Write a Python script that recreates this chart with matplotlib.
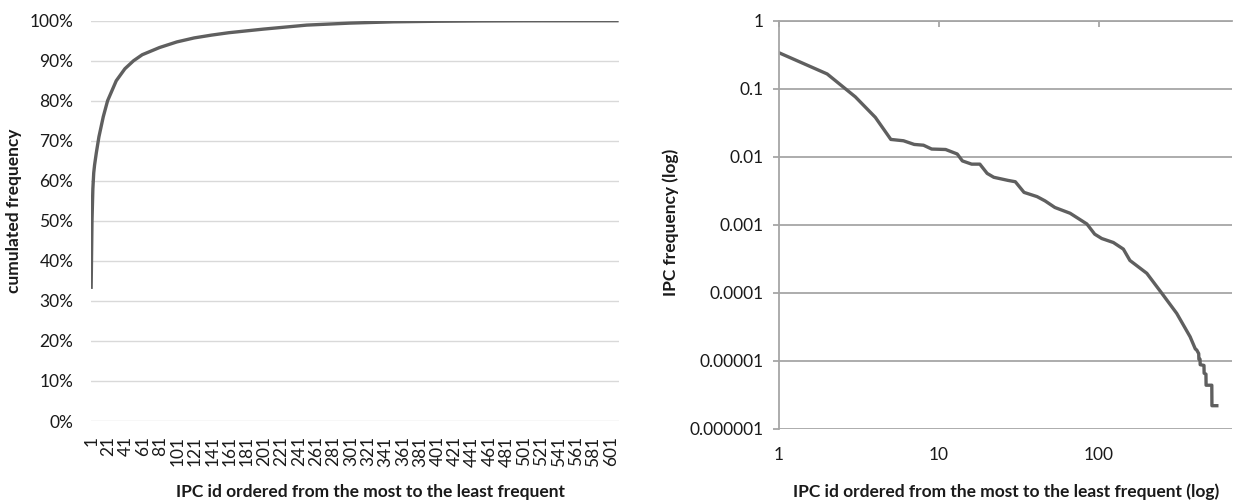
import matplotlib
matplotlib.use("Agg")
import matplotlib.pyplot as plt
from matplotlib.ticker import FixedLocator, FixedFormatter

plt.rcParams['font.family'] = ['Lato', 'DejaVu Sans']

# ---- data: left chart (cumulated frequency) ----
cum_idx = [1, 2, 3, 4, 5, 7, 10, 15, 20, 30, 40, 50, 60, 80, 100, 120, 140,
           160, 200, 250, 300, 350, 400, 450, 500, 550, 610]
cum_val = [0.33, 0.50, 0.58, 0.62, 0.64, 0.67, 0.71, 0.76, 0.80, 0.85, 0.88,
           0.90, 0.915, 0.933, 0.947, 0.957, 0.964, 0.970, 0.979, 0.989,
           0.994, 0.9972, 0.9986, 0.9994, 0.9998, 0.9999, 1.0]
n_categories = 610
left_xticks = list(range(1, 602, 20))
left_yticks = [0, 0.1, 0.2, 0.3, 0.4, 0.5, 0.6, 0.7, 0.8, 0.9, 1.0]
left_ylabels = ["0%", "10%", "20%", "30%", "40%", "50%", "60%", "70%",
                "80%", "90%", "100%"]

# ---- data: right chart (frequency, log-log) ----
freq_idx = [1, 2, 3, 4, 5, 6, 7, 8, 9, 10, 11, 13, 14, 16, 18, 20, 22, 27,
            30, 34, 41, 46, 53, 66, 84, 94, 104, 123, 142, 156, 199, 246,
            306, 371, 400, 408, 420, 421, 428, 429, 453, 454, 466, 467, 507,
            508, 545]
freq_val = [0.338, 0.165, 0.076, 0.038, 0.018, 0.0172, 0.0152, 0.0148,
            0.0130, 0.0129, 0.0128, 0.0110, 0.0087, 0.0078, 0.0078, 0.0057,
            0.0050, 0.0045, 0.0043, 0.0030, 0.0026, 0.00225, 0.0018,
            0.00148, 0.00103, 0.00073, 0.00063, 0.00055, 0.00044, 0.00030,
            0.000194, 0.000100, 0.000050, 0.0000227, 0.0000150, 0.0000145,
            0.0000128, 0.0000106, 0.0000106, 0.0000088, 0.0000086,
            0.0000066, 0.0000064, 0.0000044, 0.0000044, 0.0000022,
            0.0000022]
right_yticks = [1e-6, 1e-5, 1e-4, 1e-3, 1e-2, 1e-1, 1]
right_ylabels = ["0.000001", "0.00001", "0.0001", "0.001", "0.01", "0.1", "1"]
right_xticks = [1, 10, 100]
right_xlabels = ["1", "10", "100"]

W, H = 1233, 500
fig = plt.figure(figsize=(W / 100, H / 100), dpi=100)

line_color = "#5f5f5f"
text_color = "#1a1a1a"
fs = 12.5
fs_title = 12.5

# ---------------- left chart ----------------
axL = fig.add_axes([90.7 / W, (H - 421) / H, 528.3 / W, 400.3 / H])
axL.plot(cum_idx, cum_val, color=line_color, lw=2.4, solid_capstyle="butt")
axL.set_xlim(0.5, n_categories + 0.5)
axL.set_ylim(0, 1)
axL.yaxis.set_major_locator(FixedLocator(left_yticks))
axL.yaxis.set_major_formatter(FixedFormatter(left_ylabels))
axL.set_xticks(left_xticks)
axL.set_xticklabels([str(v) for v in left_xticks], rotation=90)
for s in axL.spines.values():
    s.set_visible(False)
axL.grid(axis="y", color="#d9d9d9", lw=1.0)
axL.set_axisbelow(True)
axL.tick_params(axis="both", length=0, labelsize=fs, colors=text_color)
axL.tick_params(axis="y", pad=12.5)
axL.tick_params(axis="x", pad=11)

fig.text(14 / W, 1 - 211 / H, "cumulated frequency", rotation=90,
         ha="center", va="center", fontsize=fs_title, fontweight="bold",
         color=text_color)
fig.text(371 / W, 1 - 492 / H,
         "IPC id ordered from the most to the least frequent",
         ha="center", va="center", fontsize=fs_title, fontweight="bold",
         color=text_color)

# ---------------- right chart ----------------
axR = fig.add_axes([779 / W, (H - 429) / H, 453 / W, 408.3 / H])
axR.plot(freq_idx, freq_val, color=line_color, lw=2.4)
axR.set_xscale("log")
axR.set_yscale("log")
axR.set_xlim(1, 10 ** (453 / 160))
axR.set_ylim(1e-6, 1)
axR.yaxis.set_major_locator(FixedLocator(right_yticks))
axR.yaxis.set_major_formatter(FixedFormatter(right_ylabels))
axR.yaxis.set_minor_locator(FixedLocator([]))
axR.xaxis.set_major_locator(FixedLocator(right_xticks))
axR.xaxis.set_major_formatter(FixedFormatter(right_xlabels))
axR.xaxis.set_minor_locator(FixedLocator([]))
axR.grid(axis="y", color="#a6a6a6", lw=1.3)
axR.set_axisbelow(True)
for k in ("right", "bottom"):
    axR.spines[k].set_visible(False)
for k in ("left", "top"):
    axR.spines[k].set_color("#a6a6a6")
    axR.spines[k].set_linewidth(1.3)
axR.tick_params(axis="y", length=4.3, width=1.3, color="#a6a6a6",
                labelsize=fs, colors=text_color, pad=7)
axR.tick_params(axis="y", color="#a6a6a6")
axR.tick_params(axis="x", which="both", bottom=False, top=True,
                labelbottom=True, labeltop=False, direction="in",
                length=4, width=1.3, labelsize=fs, labelcolor=text_color,
                color="#a6a6a6", pad=13)

fig.text(671 / W, 1 - 222 / H, "IPC frequency (log)", rotation=90,
         ha="center", va="center", fontsize=fs_title, fontweight="bold",
         color=text_color)
fig.text(1006 / W, 1 - 492 / H,
         "IPC id ordered from the most to the least frequent (log)",
         ha="center", va="center", fontsize=fs_title, fontweight="bold",
         color=text_color)

fig.savefig("out.png", dpi=100)
